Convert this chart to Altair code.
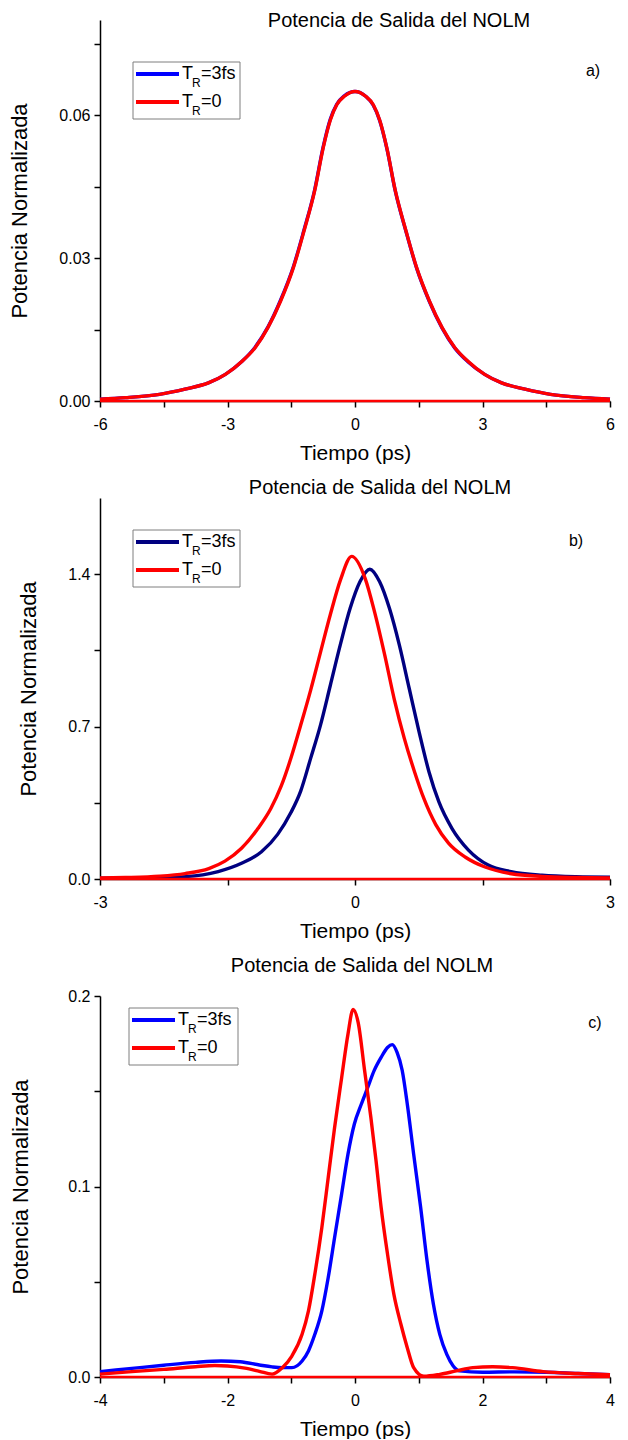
import altair as alt
import pandas as pd

FONT = "Liberation Sans"
TITLE = "Potencia de Salida del NOLM"
BLUE = "#0000FF"
NAVY = "#000080"
RED = "#FF0000"

# ---------------- panel a ----------------
a_t_blue = [-6.0, -5.4, -4.6, -4.0, -3.45, -3.05, -2.65, -2.35, -2.05, -1.75, -1.45, -1.2, -0.95, -0.75, -0.58, -0.43, -0.25, 0.0,
            0.25, 0.43, 0.58, 0.75, 0.95, 1.2, 1.45, 1.75, 2.05, 2.35, 2.65, 3.05, 3.45, 4.0, 4.6, 5.4, 6.0]
a_p_blue = [0.0004, 0.0007, 0.0014, 0.0025, 0.0038, 0.0056, 0.0084, 0.0113, 0.0155, 0.0212, 0.0282, 0.0359, 0.0443, 0.0533, 0.0592, 0.0623, 0.0641, 0.0650,
            0.0640, 0.0621, 0.0589, 0.0530, 0.0440, 0.0356, 0.0279, 0.0209, 0.0153, 0.0111, 0.0083, 0.0056, 0.0038, 0.0025, 0.0014, 0.0007, 0.0004]
a_t_red = [-6.0, -5.4, -4.6, -4.0, -3.45, -3.05, -2.65, -2.35, -2.05, -1.75, -1.45, -1.2, -0.95, -0.75, -0.58, -0.43, -0.25, 0.0,
           0.25, 0.43, 0.58, 0.75, 0.95, 1.2, 1.45, 1.75, 2.05, 2.35, 2.65, 3.05, 3.45, 4.0, 4.6, 5.4, 6.0]
a_p_red = [0.0004, 0.0007, 0.0014, 0.0025, 0.0038, 0.0056, 0.0084, 0.0112, 0.0154, 0.0210, 0.0280, 0.0357, 0.0441, 0.0531, 0.0590, 0.0622, 0.0640, 0.0650,
           0.0640, 0.0622, 0.0590, 0.0531, 0.0441, 0.0357, 0.0280, 0.0210, 0.0154, 0.0112, 0.0084, 0.0056, 0.0038, 0.0025, 0.0014, 0.0007, 0.0004]

# ---------------- panel b ----------------
b_t_blue = [-3.0, -2.5, -1.99, -1.61, -1.335, -1.10, -0.91, -0.754, -0.638, -0.522, -0.406, -0.29, -0.174, -0.058, 0.058, 0.174,
            0.29, 0.406, 0.522, 0.638, 0.754, 0.87, 0.986, 1.14, 1.335, 1.567, 1.837, 2.2, 2.6, 3.0]
b_p_blue = [0.004, 0.005, 0.011, 0.034, 0.072, 0.125, 0.205, 0.305, 0.405, 0.554, 0.707, 0.890, 1.074, 1.242, 1.365, 1.423,
            1.365, 1.242, 1.074, 0.875, 0.676, 0.493, 0.355, 0.233, 0.133, 0.064, 0.034, 0.017, 0.010, 0.008]
b_t_red = [-3.0, -2.7, -2.3, -2.0, -1.72, -1.53, -1.335, -1.14, -0.99, -0.87, -0.75, -0.64, -0.52, -0.41, -0.29, -0.17, -0.04,
           0.12, 0.23, 0.35, 0.46, 0.58, 0.70, 0.81, 0.95, 1.10, 1.30, 1.53, 1.84, 2.2, 2.6, 3.0]
b_p_red = [0.005, 0.007, 0.013, 0.025, 0.048, 0.082, 0.141, 0.233, 0.324, 0.425, 0.560, 0.705, 0.870, 1.035, 1.215, 1.375, 1.482,
           1.380, 1.227, 1.028, 0.829, 0.646, 0.493, 0.370, 0.250, 0.165, 0.100, 0.055, 0.024, 0.012, 0.007, 0.005]

# ---------------- panel c ----------------
c_t_blue = [-4.0, -3.5, -3.0, -2.5, -2.1, -1.8, -1.5, -1.3, -1.14, -0.99, -0.83, -0.73, -0.63, -0.52, -0.42, -0.32, -0.21, -0.11,
            -0.01, 0.10, 0.20, 0.30, 0.41, 0.51, 0.585, 0.66, 0.74, 0.82, 0.92, 1.03, 1.13, 1.23, 1.33, 1.44, 1.54, 1.64,
            2.0, 2.5, 3.0, 3.5, 4.0]
c_p_blue = [0.0028, 0.0045, 0.0062, 0.0077, 0.0084, 0.0080, 0.0063, 0.0053, 0.0049, 0.0049, 0.0084, 0.0137, 0.0224, 0.0347, 0.0522, 0.0732, 0.0960, 0.1170,
            0.1328, 0.1433, 0.1520, 0.1608, 0.1678, 0.1730, 0.1745, 0.1704, 0.1610, 0.1433, 0.1170, 0.0890, 0.0610, 0.0382, 0.0224, 0.0119, 0.0058, 0.0032,
            0.0025, 0.0027, 0.0025, 0.0018, 0.0012]
c_t_red = [-4.0, -3.5, -3.0, -2.5, -2.2, -2.0, -1.7, -1.5, -1.3, -1.14, -0.99, -0.83, -0.73, -0.63, -0.52, -0.42, -0.32, -0.21, -0.11, -0.03,
           0.05, 0.15, 0.25, 0.33, 0.41, 0.51, 0.61, 0.72, 0.82, 0.92, 1.08, 1.33, 1.59, 1.85, 2.16, 2.47, 2.95, 3.5, 4.0]
c_p_red = [0.0015, 0.0028, 0.0040, 0.0054, 0.0060, 0.0058, 0.0045, 0.0030, 0.0015, 0.0049, 0.0110, 0.0224, 0.0347, 0.0540, 0.0785, 0.1047, 0.1310, 0.1570, 0.1800, 0.1930,
           0.1860, 0.1610, 0.1360, 0.1135, 0.0890, 0.0645, 0.0434, 0.0277, 0.0154, 0.0049, 0.0004, 0.0014, 0.0032, 0.0049, 0.0054, 0.0049, 0.0028, 0.0018, 0.0012]

LEGEND_LABELS = ["=3fs", "=0"]
PANEL_LABELS = ["a)", "b)", "c)"]

ONE = pd.DataFrame({"k": [0]})
W, H = 510, 381


def txt(text, x, y, size, align="left"):
    return alt.Chart(ONE).mark_text(text=text, font=FONT, fontSize=size, align=align, baseline="middle",
                                    color="black").encode(x=alt.value(x), y=alt.value(y))


def panel(t_blue, p_blue, t_red, p_red, blue_color, xdom, xvals, xstep, ydom, yvals, ystep, yfmt,
          title_xy, box, label_text, label_xy, ytitle_pad):
    xenc = alt.X("t:Q", scale=alt.Scale(domain=xdom, nice=False, zero=False),
                 axis=alt.Axis(values=xvals, title="Tiempo (ps)",
                               labelExpr=f"abs(datum.value/{xstep} - round(datum.value/{xstep})) < 0.001 ? ('' + datum.value) : ''",
                               tickSize=6, labelPadding=9, titlePadding=10, titleFontSize=21,
                               labelFlush=False, labelOverlap=False))
    yenc = alt.Y("p:Q", scale=alt.Scale(domain=ydom, nice=False, zero=True),
                 axis=alt.Axis(values=yvals, title="Potencia Normalizada",
                               labelExpr=f"abs(datum.value/{ystep} - round(datum.value/{ystep})) < 0.001 ? format(datum.value, '{yfmt}') : ''",
                               tickSize=6, labelPadding=4, titlePadding=ytitle_pad, titleFontSize=22,
                               labelFlush=False, labelOverlap=False))
    dfb = pd.DataFrame({"t": t_blue, "p": p_blue, "i": range(len(t_blue))})
    dfr = pd.DataFrame({"t": t_red, "p": p_red, "i": range(len(t_red))})
    dfbase = pd.DataFrame({"t": [xdom[0], xdom[1]], "p": [0.0, 0.0], "i": [0, 1]})

    blue = alt.Chart(dfb).mark_line(color=blue_color, strokeWidth=3.4, interpolate="monotone").encode(
        x=xenc, y=yenc, order="i:Q")
    red = alt.Chart(dfr).mark_line(color=RED, strokeWidth=3.4, interpolate="monotone").encode(
        x=xenc, y=yenc, order="i:Q")
    base = alt.Chart(dfbase).mark_line(color=RED, strokeWidth=2.5).encode(x=xenc, y=yenc, order="i:Q")

    bx0, by0, bx1, by1 = box
    legbox = alt.Chart(ONE).mark_rect(fill="white", stroke="#7f7f7f", strokeWidth=1).encode(
        x=alt.value(bx0), x2=alt.value(bx1), y=alt.value(by0), y2=alt.value(by1))
    layers = [blue, red, base, legbox]
    for k, (col, lab) in enumerate([(blue_color, LEGEND_LABELS[0]), (RED, LEGEND_LABELS[1])]):
        ly = by0 + 12 + 28 * k
        layers.append(alt.Chart(ONE).mark_rule(color=col, strokeWidth=4).encode(
            x=alt.value(bx0 + 3), x2=alt.value(bx0 + 46), y=alt.value(ly)))
        layers.append(txt("T", bx0 + 49, ly, 18))
        layers.append(txt("R", bx0 + 59, ly + 9, 12))
        layers.append(txt(lab, bx0 + 68, ly, 18))
    layers.append(txt(label_text, label_xy[0], label_xy[1], 16, "center"))
    layers.append(txt(TITLE, title_xy[0], title_xy[1], 20, "center"))

    return alt.layer(*layers).properties(width=W, height=H)


pa = panel(a_t_blue, a_p_blue, a_t_red, a_p_red, BLUE, [-6, 6], [-6, -4.5, -3, -1.5, 0, 1.5, 3, 4.5, 6], 3,
           [0, 0.08], [0, 0.015, 0.03, 0.045, 0.06, 0.075], 0.03, ".2f",
           (299, 1), (33, 42, 140, 99), PANEL_LABELS[0], (493, 51), 27)
pb = panel(b_t_blue, b_p_blue, b_t_red, b_p_red, NAVY, [-3, 3], [-3, -1.5, 0, 1.5, 3], 3,
           [0, 1.75], [0, 0.35, 0.7, 1.05, 1.4], 0.7, ".1f",
           (280, -10), (33, 32, 140, 89), PANEL_LABELS[1], (476, 43), 27)
pc = panel(c_t_blue, c_p_blue, c_t_red, c_p_red, BLUE, [-4, 4], [-4, -3, -2, -1, 0, 1, 2, 3, 4], 2,
           [0, 0.2], [0, 0.05, 0.1, 0.15, 0.2], 0.1, ".1f",
           (262, -30), (29, 12, 138, 69), PANEL_LABELS[2], (495, 27), 35)

chart = alt.vconcat(pa, pb, pc, spacing=15).properties(
    padding={"left": 0, "top": 3, "right": 0, "bottom": 0}
).configure_axis(
    domainColor="black", domainWidth=1.5, tickColor="black", tickWidth=1.5, grid=False,
    labelFont=FONT, labelFontSize=16, labelColor="black",
    titleFont=FONT, titleFontWeight="normal", titleColor="black"
).configure_view(stroke=None)

chart.save("out.html", embed_options={"renderer": "svg", "actions": False})
